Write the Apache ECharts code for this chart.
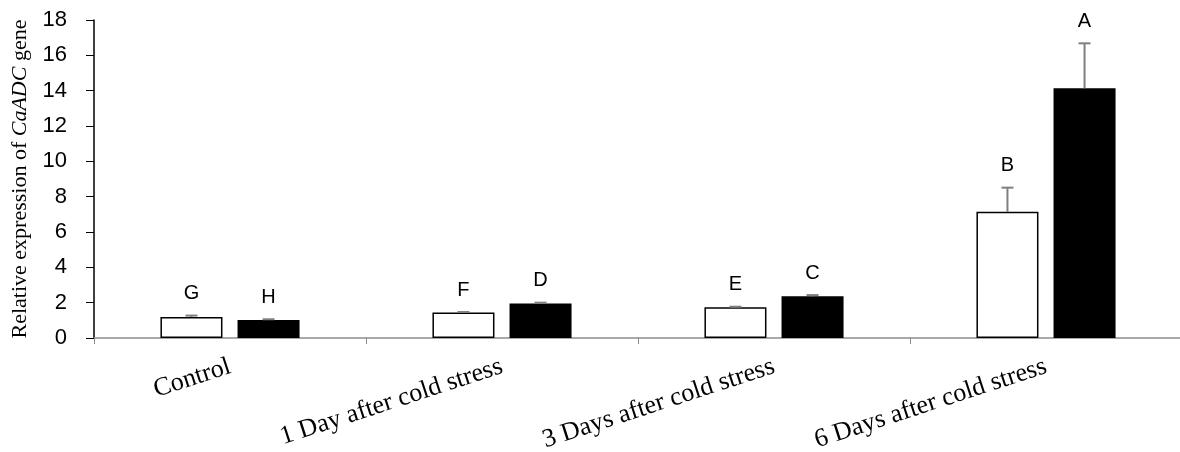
<!DOCTYPE html>
<html>
<head>
<meta charset="utf-8">
<script src="https://cdn.jsdelivr.net/npm/echarts@6/dist/echarts.min.js"></script>
<style>
html,body{margin:0;padding:0;background:#fff;}
#chart{width:1180px;height:452px;}
</style>
</head>
<body>
<div id="chart"></div>
<script>
const categories = ['Control', '1 Day after cold stress', '3 Days after cold stress', '6 Days after cold stress'];
const whiteValues = [1.19, 1.44, 1.74, 7.14];
const whiteErrors = [0.08, 0.03, 0.03, 1.37];
const whiteLetters = ['G', 'F', 'E', 'B'];
const blackValues = [1.02, 1.95, 2.36, 14.13];
const blackErrors = [0.04, 0.05, 0.07, 2.55];
const blackLetters = ['H', 'D', 'C', 'A'];
const yMin = 0, yMax = 18, yStep = 2;

const BAR_FRAC = 0.228;   // bar width as fraction of band
const GAP_FRAC = 0.243;   // gap relative to bar width
const OFFSET_FRAC = BAR_FRAC * (1 + GAP_FRAC) / 2;

function errData(values, errors) {
  return categories.map((c, i) => [i, values[i], errors[i]]);
}

function makeRender(side, letters) {
  return function (params, api) {
    const i = api.value(0);
    const v = api.value(1);
    const e = api.value(2);
    const base = api.coord([i, v]);
    const top = api.coord([i, v + e]);
    const band = api.size([1, 0])[0];
    const x = base[0] + side * band * OFFSET_FRAC;
    const stroke = { stroke: '#7f7f7f', lineWidth: 2 };
    const children = [];
    if (base[1] - top[1] > 0.5) {
      children.push({ type: 'line', shape: { x1: x, y1: base[1], x2: x, y2: top[1] }, style: stroke });
    }
    children.push({ type: 'line', shape: { x1: x - 6, y1: top[1], x2: x + 6, y2: top[1] }, style: stroke });
    children.push({
      type: 'text', x: x, y: top[1] - 22,
      style: { text: letters[i], fill: '#000', fontSize: 20, fontFamily: 'Liberation Sans, Arial, sans-serif', align: 'center', verticalAlign: 'middle' }
    });
    return { type: 'group', children: children };
  };
}

const chart = echarts.init(document.getElementById('chart'), null, { renderer: 'canvas' });
chart.setOption({
  animation: false,
  backgroundColor: '#fff',
  grid: { left: 94, top: 20, width: 1088, height: 318, containLabel: false, outerBoundsMode: 'none' },
  xAxis: {
    type: 'category',
    data: categories,
    axisLine: { lineStyle: { color: '#8c8c8c', width: 1.5 } },
    axisTick: { show: true, length: 6, lineStyle: { color: '#8c8c8c', width: 1 } },
    axisLabel: {
      interval: 0, rotate: 18, margin: 28,
      color: '#000', fontSize: 26,
      fontFamily: 'Liberation Serif, Times New Roman, serif'
    }
  },
  yAxis: {
    type: 'value',
    min: yMin, max: yMax, interval: yStep,
    splitLine: { show: false },
    axisLine: { show: true, lineStyle: { color: '#000', width: 1.5 } },
    axisTick: { show: true, length: 8, lineStyle: { color: '#000', width: 1 } },
    axisLabel: { color: '#000', fontSize: 22, margin: 27, fontFamily: 'Liberation Sans, Arial, sans-serif' },
    name: '{n|Relative expression of }{i|CaADC}{n| gene}',
    nameLocation: 'middle',
    nameGap: 56,
    nameRotate: 90,
    nameTextStyle: {
      rich: {
        n: { fontSize: 22, fontFamily: 'Liberation Serif, Times New Roman, serif', color: '#000' },
        i: { fontSize: 22, fontStyle: 'italic', fontFamily: 'Liberation Serif, Times New Roman, serif', color: '#000' }
      }
    }
  },
  series: [
    {
      type: 'bar', name: 'white', data: whiteValues,
      barWidth: (BAR_FRAC * 100) + '%', barGap: (GAP_FRAC * 100) + '%',
      itemStyle: { color: '#fff', borderColor: '#000', borderWidth: 1.5 }
    },
    {
      type: 'bar', name: 'black', data: blackValues,
      barWidth: (BAR_FRAC * 100) + '%', barGap: (GAP_FRAC * 100) + '%',
      itemStyle: { color: '#000', borderColor: '#000', borderWidth: 0 }
    },
    {
      type: 'custom', name: 'whiteErr', data: errData(whiteValues, whiteErrors),
      renderItem: makeRender(-1, whiteLetters), z: 5, clip: false
    },
    {
      type: 'custom', name: 'blackErr', data: errData(blackValues, blackErrors),
      renderItem: makeRender(1, blackLetters), z: 5, clip: false
    }
  ]
});
</script>
</body>
</html>
